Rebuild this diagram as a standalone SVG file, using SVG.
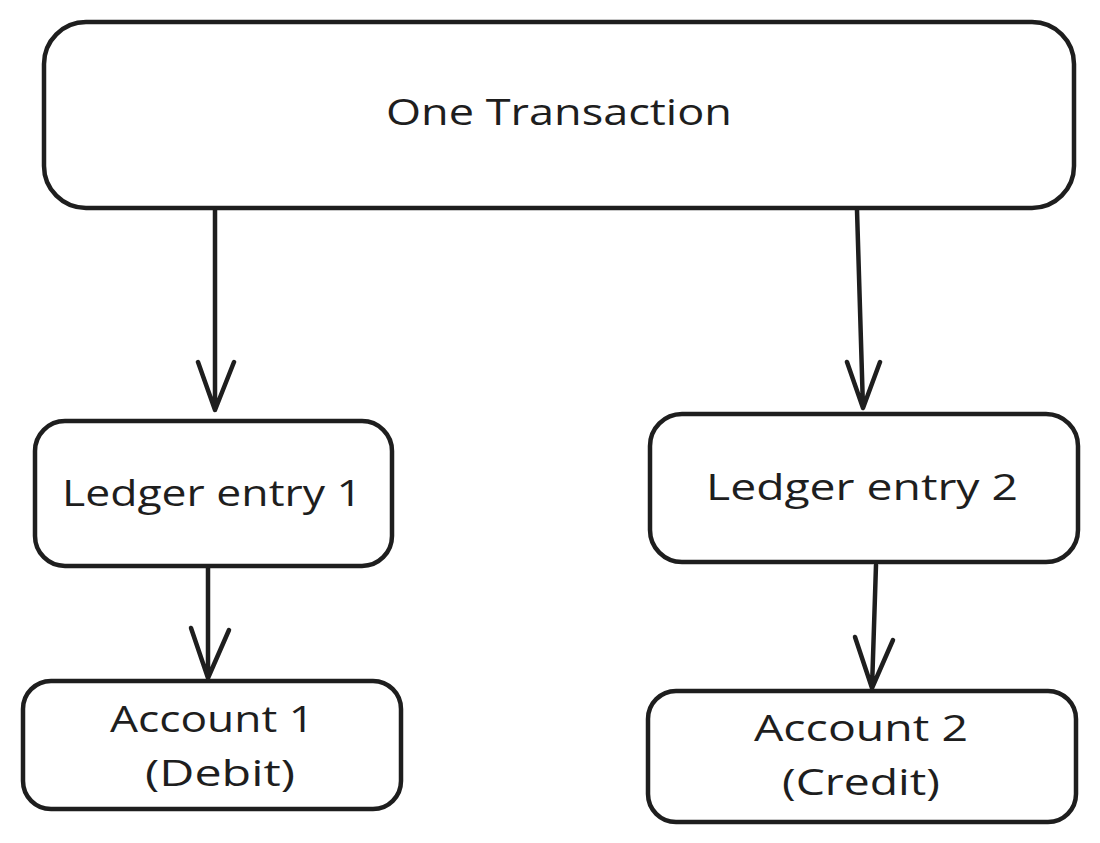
<svg xmlns="http://www.w3.org/2000/svg" width="1100" height="843" viewBox="0 0 1100 843">
<style>
.box{fill:#ffffff;stroke:#1e1e1e;stroke-width:4.5;stroke-linejoin:round}
.lbl{font-family:"Open Sans","Liberation Sans",sans-serif;font-size:36px;fill:#1e1e1e;text-anchor:middle}
.conn{fill:none;stroke:#1e1e1e;stroke-width:4.5;stroke-linecap:round;stroke-linejoin:round}
</style>
<rect width="1100" height="843" fill="#ffffff"/>
<g id="connectors">
<path class="conn" d="M215 210 L215 410 M198 362 L215 410 L234 362"/>
<path class="conn" d="M857 210 L863 408 M847 362 L863 408 L880 362"/>
<path class="conn" d="M208 568 L208 678 M191 628 L208 678 L229 630"/>
<path class="conn" d="M876 565 L872 688 M855 637 L872 688 L893 640"/>
</g>
<g id="node-transaction">
<rect class="box" x="44" y="22" width="1030" height="186" rx="42"/>
<text class="lbl" x="559" y="125" textLength="346" lengthAdjust="spacingAndGlyphs">One Transaction</text>
</g>
<g id="node-ledger1">
<rect class="box" x="35" y="421" width="357" height="145" rx="30"/>
<text class="lbl" x="212" y="506" textLength="300" lengthAdjust="spacingAndGlyphs">Ledger entry 1</text>
</g>
<g id="node-ledger2">
<rect class="box" x="650" y="414" width="428" height="148" rx="32"/>
<text class="lbl" x="862" y="500" textLength="312" lengthAdjust="spacingAndGlyphs">Ledger entry 2</text>
</g>
<g id="node-account1">
<rect class="box" x="23" y="681" width="378" height="128" rx="28"/>
<text class="lbl" x="212" y="732" textLength="204" lengthAdjust="spacingAndGlyphs">Account 1</text>
<text class="lbl" x="220" y="786" textLength="150" lengthAdjust="spacingAndGlyphs">(Debit)</text>
</g>
<g id="node-account2">
<rect class="box" x="648" y="691" width="428" height="131" rx="28"/>
<text class="lbl" x="861" y="741" textLength="214" lengthAdjust="spacingAndGlyphs">Account 2</text>
<text class="lbl" x="861" y="795" textLength="158" lengthAdjust="spacingAndGlyphs">(Credit)</text>
</g>
</svg>
